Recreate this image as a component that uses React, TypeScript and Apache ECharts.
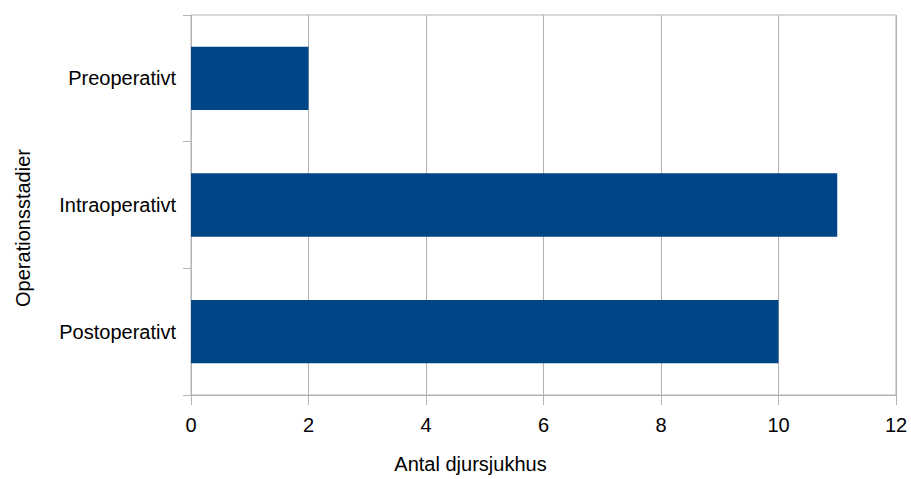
import React, { useEffect, useRef } from "react";
import * as echarts from "echarts";

const categories = ["Preoperativt", "Intraoperativt", "Postoperativt"];
const values = [2, 11, 10];
const xAxisTitle = "Antal djursjukhus";
const yAxisTitle = "Operationsstadier";

export default function App() {
  const ref = useRef<HTMLDivElement>(null);
  useEffect(() => {
    if (!ref.current) return;
    const chart = echarts.init(ref.current, undefined, { renderer: "svg" });
    const font = "Liberation Sans, Arial, sans-serif";
    chart.setOption({
      animation: false,
      backgroundColor: "#ffffff",
      grid: {
        left: 191,
        right: 15,
        top: 15,
        bottom: 78,
        show: true,
        borderColor: "#b3b3b3",
        borderWidth: 1,
        backgroundColor: "transparent",
      },
      xAxis: {
        type: "value",
        min: 0,
        max: 12,
        interval: 2,
        name: xAxisTitle,
        nameLocation: "middle",
        nameGap: 59,
        nameTextStyle: {
          color: "#000",
          fontFamily: font,
          fontSize: 20,
          padding: [0, 146, 0, 0],
        },
        axisLine: { show: true, lineStyle: { color: "#b3b3b3", width: 1 } },
        axisTick: { show: true, length: 10, lineStyle: { color: "#b3b3b3" } },
        axisLabel: { color: "#000", fontFamily: font, fontSize: 20, margin: 20 },
        splitLine: { show: true, lineStyle: { color: "#b3b3b3", width: 1 } },
      },
      yAxis: {
        type: "category",
        data: categories,
        inverse: true,
        name: yAxisTitle,
        nameLocation: "middle",
        nameGap: 158,
        nameTextStyle: {
          color: "#000",
          fontFamily: font,
          fontSize: 20,
          padding: [0, 46, 0, 0],
        },
        axisLine: { show: true, lineStyle: { color: "#b3b3b3", width: 1 } },
        axisTick: { show: true, length: 8, lineStyle: { color: "#b3b3b3" } },
        axisLabel: { color: "#000", fontFamily: font, fontSize: 20, margin: 15 },
        splitLine: { show: false },
      },
      series: [
        {
          type: "bar",
          data: values,
          barCategoryGap: "50%",
          itemStyle: { color: "#004586" },
        },
      ],
    });
    return () => chart.dispose();
  }, []);
  return (
    <div
      ref={ref}
      style={{ position: "fixed", left: 0, top: 0, width: 911, height: 479 }}
    />
  );
}
